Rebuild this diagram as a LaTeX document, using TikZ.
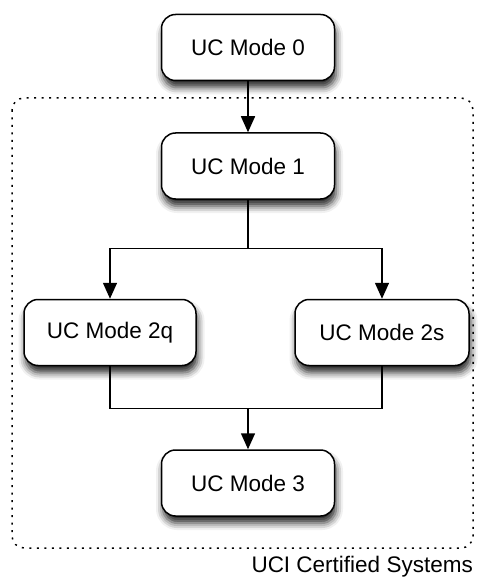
\documentclass[tikz,border=0pt]{standalone}
\usepackage{fontspec}
\setmainfont{Liberation Sans}
\usetikzlibrary{arrows.meta, positioning, calc, shadows.blur}

\begin{document}
\begin{tikzpicture}[
        x=1pt, y=1pt,
        node distance=51pt,
        mode/.style={rectangle, rounded corners=14pt, draw, line width=1.5pt,
                     fill=white, minimum width=173pt, minimum height=66pt,
                     align=center, font=\fontsize{22.5}{27}\selectfont,
                     blur shadow={shadow xshift=1.5pt, shadow yshift=-7pt,
                                  shadow blur radius=7pt, shadow opacity=85}},
        arrow/.style={-{Triangle[width=14pt,length=16pt]}, line width=1.5pt},
        link/.style={line width=1.5pt},
        group/.style={line width=1.5pt, rounded corners=12pt,
                      dash pattern=on 2pt off 5.5pt},
    ]
        \useasboundingbox (0,0) rectangle (478,-577);

        % certified group
        \coordinate (gnw) at (12,-98);
        \coordinate (gse) at (473,-548);
        \draw[group] (gnw) rectangle (gse);
        \node[anchor=north east, inner sep=0pt, font=\fontsize{22.5}{27}\selectfont]
            (glabel) at ($(gse)+(0,-8)$) {UCI Certified Systems};

        \node[mode] (m0) at (248,-47.5) {UC Mode 0};
        \node[mode, below=of m0] (m1) {UC Mode 1};
        \node[mode, below=99pt of m1, xshift=-138pt, minimum width=172pt] (m2q) {UC Mode 2q};
        \node[mode, below=99pt of m1, xshift=134pt, minimum width=174pt] (m2s) {UC Mode 2s};
        \node[mode, below=83pt of m2q, xshift=138pt] (m3) {UC Mode 3};

        \coordinate (split) at ($(m1.south)+(0,-48.5)$);
        \coordinate (merge) at ($(m3.north)+(0,41)$);

        \draw[arrow] (m0) -- (m1);
        \draw[link] (m1.south) -- (split);
        \draw[arrow] (split) -| (m2q.north);
        \draw[arrow] (split) -| (m2s.north);
        \draw[link] (m2q.south) |- (merge) -| (m2s.south);
        \draw[arrow] (merge) -- (m3.north);

    \end{tikzpicture}
\end{document}
